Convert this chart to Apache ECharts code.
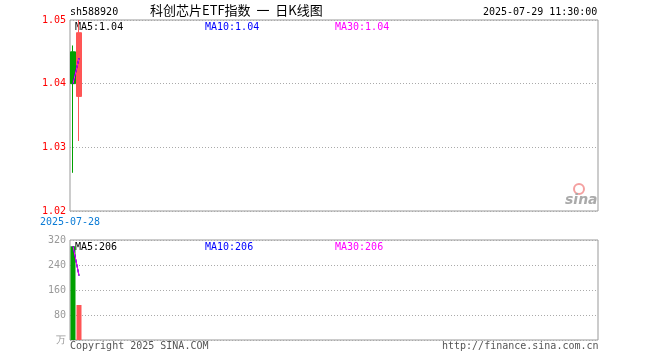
<!DOCTYPE html>
<html><head><meta charset="utf-8">
<script src="https://cdn.jsdelivr.net/npm/echarts@6/dist/echarts.min.js"></script>
<style>html,body{margin:0;padding:0;background:#fff}#c{width:660px;height:360px}</style>
</head><body><div id="c"></div>
<script>
const categories = ['2025-07-28', '2025-07-29'];
// [open, close, low, high]
const ohlc = [[1.045, 1.040, 1.026, 1.046], [1.038, 1.048, 1.031, 1.050]];
const volumes = [300, 112];
const ma5 = [1.040, 1.044];
const ma10 = [1.040, 1.044];
const ma30 = [1.040, 1.044];
const volMa5 = [300, 206];
const volMa10 = [300, 206];
const volMa30 = [300, 206];
const priceTicks = [1.02, 1.03, 1.04, 1.05];
const volTicks = [0, 80, 160, 240, 320];
const slots = 88;

const MONO = '"DejaVu Sans Mono", monospace';
const CJK = '"Noto Sans CJK SC", sans-serif';
const UP = '#ff5555', DOWN = '#00a000';

const chart = echarts.init(document.getElementById('c'), null, {renderer: 'canvas'});
const txt = (x, y, s, color, opts) => Object.assign({type: 'text', left: x, top: y, style: {text: s, fill: color, font: '10px ' + MONO}}, opts || {});

chart.setOption({
  animation: false,
  grid: [
    {left: 70, top: 20, width: 528, height: 191, show: true, borderColor: '#999', borderWidth: 1, backgroundColor: 'transparent'},
    {left: 70, top: 240, width: 528, height: 100, show: true, borderColor: '#999', borderWidth: 1, backgroundColor: 'transparent'}
  ],
  xAxis: [
    {type: 'category', gridIndex: 0, data: categories, max: slots - 1, boundaryGap: true,
     axisLine: {show: false}, axisTick: {show: false}, splitLine: {show: false},
     axisLabel: {interval: (i) => i === 0, color: '#0a7bd6', fontFamily: MONO, fontSize: 10, margin: 6, padding: [0, 6, 0, 0]}},
    {type: 'category', gridIndex: 1, data: categories, max: slots - 1, boundaryGap: true,
     axisLine: {show: false}, axisTick: {show: false}, splitLine: {show: false}, axisLabel: {show: false}}
  ],
  yAxis: [
    {type: 'value', gridIndex: 0, min: priceTicks[0], max: priceTicks[priceTicks.length - 1], interval: 0.01,
     axisLine: {show: false}, axisTick: {show: false},
     axisLabel: {color: '#ff0000', fontFamily: MONO, fontSize: 10, margin: 4, formatter: v => v.toFixed(2)},
     splitLine: {show: true, lineStyle: {color: '#aaa', type: [1, 2], width: 1}}},
    {type: 'value', gridIndex: 1, min: volTicks[0], max: volTicks[volTicks.length - 1], interval: 80,
     axisLine: {show: false}, axisTick: {show: false},
     axisLabel: {color: '#999', fontFamily: MONO, fontSize: 10, margin: 4,
       formatter: v => v === 0 ? '万' : String(v)},
     splitLine: {show: true, lineStyle: {color: '#aaa', type: [1, 2], width: 1}}}
  ],
  series: [
    {type: 'candlestick', xAxisIndex: 0, yAxisIndex: 0, data: ohlc, barWidth: 5,
     itemStyle: {color: UP, color0: DOWN, borderColor: UP, borderColor0: DOWN, borderWidth: 1}},
    {type: 'line', xAxisIndex: 0, yAxisIndex: 0, data: ma5, symbol: 'none', lineStyle: {color: '#000', width: 1}},
    {type: 'line', xAxisIndex: 0, yAxisIndex: 0, data: ma10, symbol: 'none', lineStyle: {color: '#0000ff', width: 1}},
    {type: 'line', xAxisIndex: 0, yAxisIndex: 0, data: ma30, symbol: 'none', lineStyle: {color: '#ff00ff', width: 1}},
    {type: 'bar', xAxisIndex: 1, yAxisIndex: 1, barWidth: 5,
     data: volumes.map((v, i) => ({value: v, itemStyle: {color: ohlc[i][1] >= ohlc[i][0] ? UP : DOWN}}))},
    {type: 'line', xAxisIndex: 1, yAxisIndex: 1, data: volMa5, symbol: 'none', lineStyle: {color: '#000', width: 1}},
    {type: 'line', xAxisIndex: 1, yAxisIndex: 1, data: volMa10, symbol: 'none', lineStyle: {color: '#0000ff', width: 1}},
    {type: 'line', xAxisIndex: 1, yAxisIndex: 1, data: volMa30, symbol: 'none', lineStyle: {color: '#ff00ff', width: 1}}
  ],
  graphic: [
    txt(70, 7, 'sh588920', '#000'),
    {type: 'text', left: 150, top: 4, style: {text: '科创芯片ETF指数  一  日K线图', fill: '#000', font: '13px ' + CJK}},
    txt(483, 7, '2025-07-29 11:30:00', '#000'),
    txt(75, 22, 'MA5:' + ma5[ma5.length - 1].toFixed(2), '#000'),
    txt(205, 22, 'MA10:' + ma10[ma10.length - 1].toFixed(2), '#0000ff'),
    txt(335, 22, 'MA30:' + ma30[ma30.length - 1].toFixed(2), '#ff00ff'),
    txt(75, 242, 'MA5:' + volMa5[volMa5.length - 1], '#000'),
    txt(205, 242, 'MA10:' + volMa10[volMa10.length - 1], '#0000ff'),
    txt(335, 242, 'MA30:' + volMa30[volMa30.length - 1], '#ff00ff'),
    txt(70, 341, 'Copyright 2025 SINA.COM', '#555'),
    txt(442, 341, 'http://finance.sina.com.cn', '#555'),
    {type: 'circle', shape: {cx: 579, cy: 189, r: 5}, style: {fill: 'none', stroke: '#f4a0a0', lineWidth: 2}},
    {type: 'text', left: 565, top: 193, style: {text: 'sina', fill: '#aaa', font: 'italic bold 14px "DejaVu Sans", sans-serif'}}
  ]
});
</script></body></html>
